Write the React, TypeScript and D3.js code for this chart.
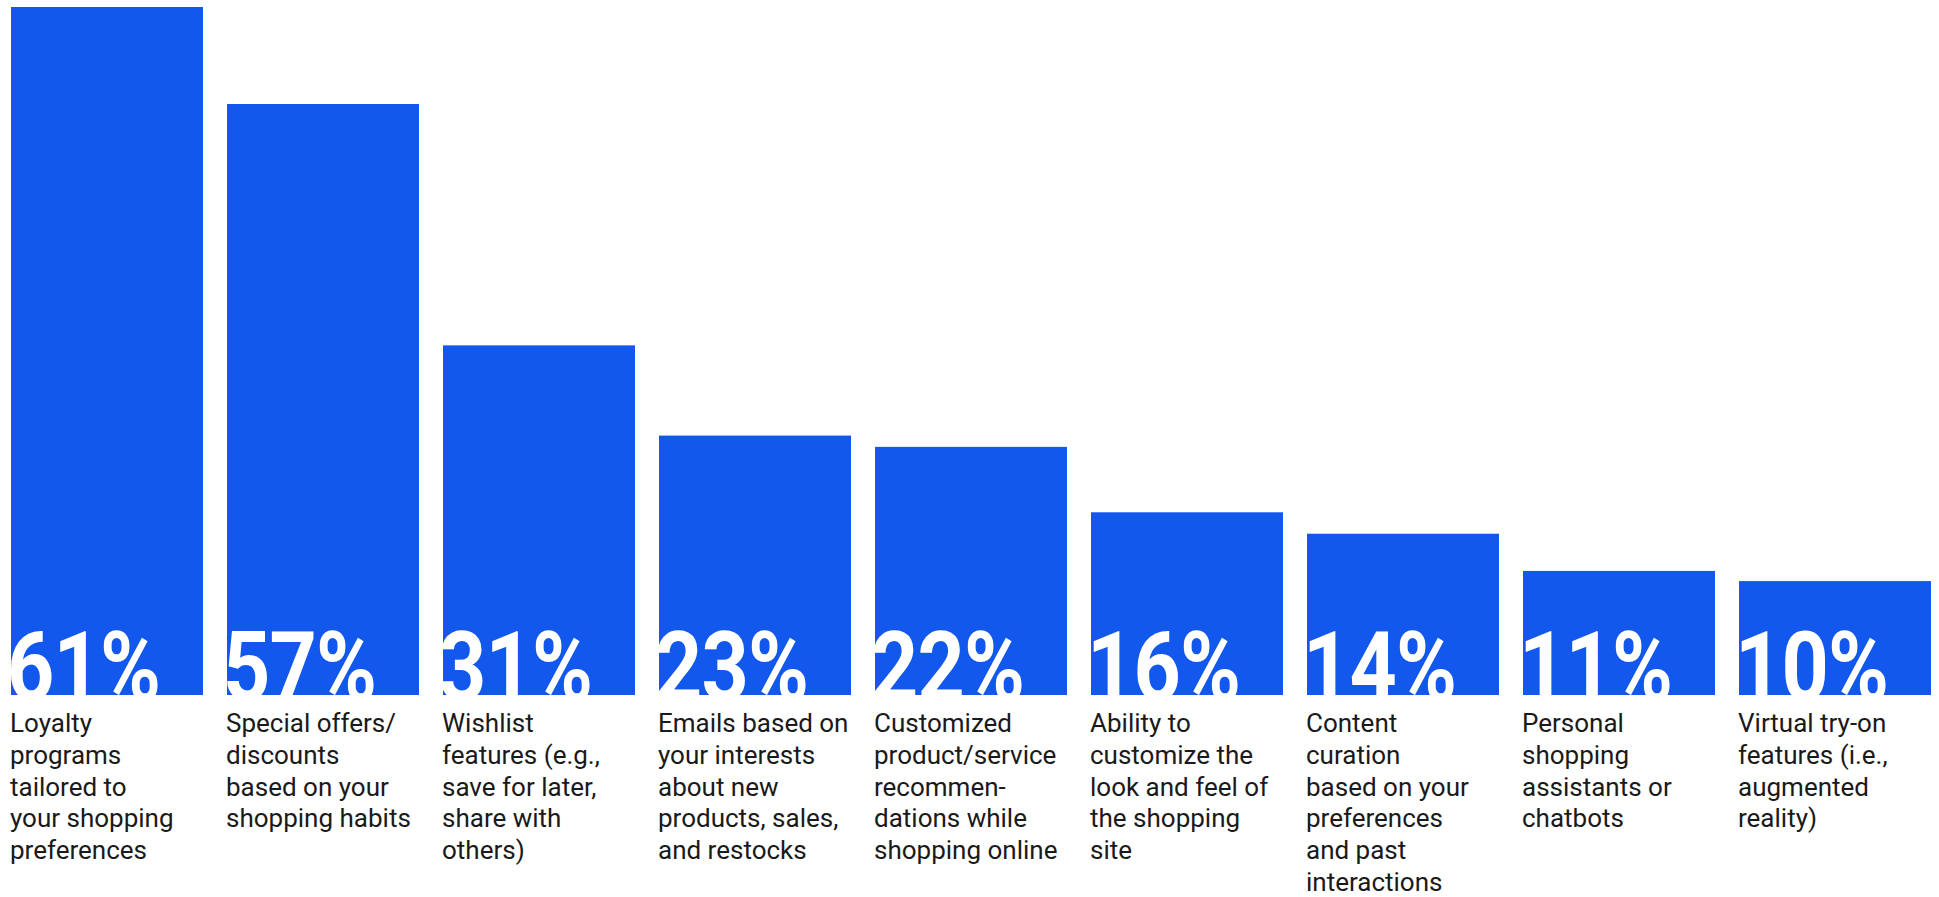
import React from "react";
import * as d3 from "d3";

const categories: string[][] = [
  ["Loyalty", "programs", "tailored to", "your shopping", "preferences"],
  ["Special offers/", "discounts", "based on your", "shopping habits"],
  ["Wishlist", "features (e.g.,", "save for later,", "share with", "others)"],
  ["Emails based on", "your interests", "about new", "products, sales,", "and restocks"],
  ["Customized", "product/service", "recommen-", "dations while", "shopping online"],
  ["Ability to", "customize the", "look and feel of", "the shopping", "site"],
  ["Content", "curation", "based on your", "preferences", "and past", "interactions"],
  ["Personal", "shopping", "assistants or", "chatbots"],
  ["Virtual try-on", "features (i.e.,", "augmented", "reality)"],
];

// bar heights as drawn in the picture (percent)
const barValues: number[] = [61, 52.4, 31, 23, 22, 16.2, 14.3, 11, 10.1];
// printed value labels
const valueLabels: string[] = ["61%", "57%", "31%", "23%", "22%", "16%", "14%", "11%", "10%"];

const W = 1939;
const H = 897;
const BLUE = "#1358EC";
const TEXT = "#1a1a1a";

export default function App() {
  const x = d3
    .scaleBand<number>()
    .domain(barValues.map((_, i) => i))
    .range([11, 1931])
    .paddingInner(24 / 216)
    .paddingOuter(0);
  const y = d3.scaleLinear().domain([0, 61]).range([695, 7]);
  const bw = x.bandwidth();

  return (
    <div style={{ position: "absolute", left: 0, top: 0, width: W, height: H, background: "#fff" }}>
      <svg width={W} height={H} style={{ display: "block" }}>
        <defs>
          {barValues.map((v, i) => (
            <clipPath id={`clip-${i}`} key={i}>
              <rect x={x(i)} y={y(v)} width={bw} height={y(0) - y(v)} />
            </clipPath>
          ))}
        </defs>
        {barValues.map((v, i) => {
          const bx = x(i) as number;
          return (
            <g key={i}>
              <rect x={bx} y={y(v)} width={bw} height={y(0) - y(v)} fill={BLUE} />
              <g clipPath={`url(#clip-${i})`}>
                <text
                  transform={`translate(${bx - 4},${y(0) + 5}) scale(0.86,1)`}
                  fill="#fff"
                  fontFamily="Roboto, 'Noto Sans', sans-serif"
                  fontWeight={700}
                  fontSize={96}
                  letterSpacing={-1}
                >
                  {valueLabels[i]}
                </text>
              </g>
              <text
                x={bx - 1}
                y={732}
                fill={TEXT}
                fontFamily="Roboto, 'Noto Sans', sans-serif"
                fontWeight={400}
                fontSize={26}
              >
                {categories[i].map((line, j) => (
                  <tspan key={j} x={bx - 1} dy={j === 0 ? 0 : 31.8}>
                    {line}
                  </tspan>
                ))}
              </text>
            </g>
          );
        })}
      </svg>
    </div>
  );
}
